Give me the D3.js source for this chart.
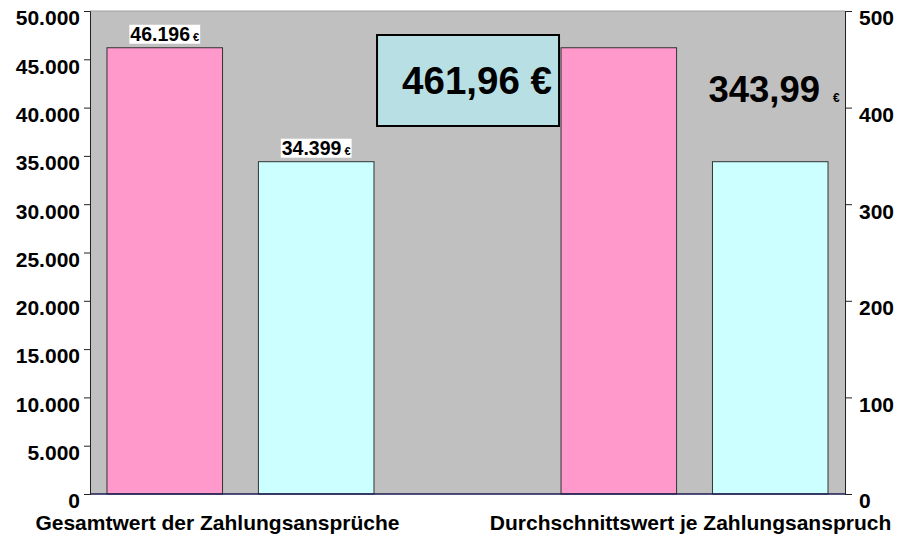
<!DOCTYPE html>
<html>
<head>
<meta charset="utf-8">
<script src="https://cdn.jsdelivr.net/npm/d3@7"></script>
<style>
  body { margin: 0; background: #fff; }
  svg { font-family: "Liberation Sans", Arial, sans-serif; font-weight: bold; }
</style>
</head>
<body>
<div id="chart"></div>
<script>
const categories = ["Gesamtwert der Zahlungsansprüche", "Durchschnittswert je Zahlungsanspruch"]
const seriesNames = ["a", "b"]
const seriesA = [46196, 461.96]
const seriesB = [34399, 343.99]
const leftTicks = [0, 5000, 10000, 15000, 20000, 25000, 30000, 35000, 40000, 45000, 50000]
const rightTicks = [0, 100, 200, 300, 400, 500]

const W = 899, H = 539
const margin = { top: 11, right: 54, bottom: 45, left: 90 },
    width = W - margin.left - margin.right,
    height = H - margin.top - margin.bottom;

const de = d3.formatLocale({ decimal: ",", thousands: ".", grouping: [3], currency: ["", " €"] })
const fmtInt = de.format(",.0f")
const fmtDec = de.format(",.2f")

const colors = ["#ff99cc", "#ccffff"]

const x0 = d3.scaleBand().domain(categories).range([0, width]).paddingInner(0.412).paddingOuter(0.0374)
const x1 = d3.scaleBand().domain(seriesNames).range([0, x0.bandwidth()]).paddingInner(0.237)
const yL = d3.scaleLinear().domain([0, 50000]).range([height, 0])
const yR = d3.scaleLinear().domain([0, 500]).range([height, 0])

const svg = d3.select("#chart").append("svg")
    .attr("width", W).attr("height", H)
const g = svg.append("g").attr("transform", "translate(" + margin.left + "," + margin.top + ")")

// plot area
g.append("rect").attr("width", width).attr("height", height).attr("fill", "#c0c0c0")
g.append("line").attr("x1", 0).attr("x2", width).attr("y1", 0).attr("y2", 0)
    .attr("stroke", "#a0a0a0").attr("stroke-width", 1)

// bars
const rows = categories.map((c, i) => ({ cat: c, i: i, vals: [seriesA[i], seriesB[i]] }))
rows.forEach(r => {
    const y = r.i === 0 ? yL : yR
    g.selectAll(null)
        .data(r.vals)
        .enter()
        .append("rect")
        .attr("x", (d, j) => x0(r.cat) + x1(seriesNames[j]))
        .attr("y", d => y(d))
        .attr("width", x1.bandwidth())
        .attr("height", d => height - y(d))
        .attr("fill", (d, j) => colors[j])
        .attr("stroke", "#333")
        .attr("stroke-width", 1)
})

// baseline
g.append("line").attr("x1", 0).attr("x2", width).attr("y1", height).attr("y2", height)
    .attr("stroke", "#1a1a50").attr("stroke-width", 1.5)

// axes
const axL = g.append("g").call(d3.axisLeft(yL).tickValues(leftTicks).tickFormat(fmtInt).tickSize(6).tickPadding(4))
const axR = g.append("g").attr("transform", "translate(" + width + ",0)")
    .call(d3.axisRight(yR).tickValues(rightTicks).tickFormat(fmtInt).tickSize(7).tickPadding(7))
;[axL, axR].forEach(a => {
    a.select(".domain").attr("stroke", "#222")
    a.selectAll(".tick line").attr("stroke", "#222")
    a.selectAll("text").attr("font-size", "21px").attr("font-weight", "bold")
        .attr("font-family", '"Liberation Sans", Arial, sans-serif').attr("fill", "#000")
        .attr("dy", "0.66em")
})

// category labels
const catOffset = [-23, -4]
g.selectAll(".cat")
    .data(categories)
    .enter()
    .append("text")
    .attr("class", "cat")
    .attr("x", (d, i) => x0(d) + x0.bandwidth() / 2 + catOffset[i])
    .attr("y", height + 36)
    .attr("text-anchor", "middle")
    .attr("font-size", "21px")
    .text(d => d)

// value labels on first group (white background)
const labG = g.append("g")
seriesNames.forEach((s, j) => {
    const v = [seriesA, seriesB][j][0]
    const cx = x0(categories[0]) + x1(s) + x1.bandwidth() / 2
    const t = labG.append("text")
        .attr("x", cx)
        .attr("y", yL(v) - 7)
        .attr("text-anchor", "middle")
        .attr("font-size", "19.5px")
    t.append("tspan").text(fmtInt(v))
    t.append("tspan").attr("font-size", "11px").text(" €")
    const bb = t.node().getBBox()
    labG.insert("rect", "text")
        .attr("x", bb.x - 1).attr("y", bb.y + 2)
        .attr("width", bb.width + 2).attr("height", bb.height - 3)
        .attr("fill", "#fff")
})

// annotation box for second group average
const boxX = x0(categories[1]) - 184, boxY = 24
g.append("rect")
    .attr("x", boxX).attr("y", boxY)
    .attr("width", 182).attr("height", 91)
    .attr("fill", "#b8e0e4").attr("stroke", "#000").attr("stroke-width", 2)
g.append("text")
    .attr("x", boxX + 100).attr("y", boxY + 59)
    .attr("text-anchor", "middle")
    .attr("font-size", "38.5px")
    .text(fmtDec(seriesA[1]) + " €")

// second annotation
const t2 = g.append("text")
    .attr("x", x0(categories[1]) + x1("b") - 4)
    .attr("y", yR(seriesB[1]) - 60)
    .attr("font-size", "36.5px")
t2.append("tspan").text(fmtDec(seriesB[1]))
t2.append("tspan").attr("font-size", "12px").attr("dx", "13").text("€")
</script>
</body>
</html>
